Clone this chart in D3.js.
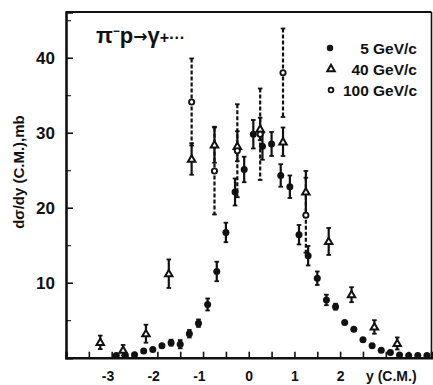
<!DOCTYPE html>
<html>
<head>
<meta charset="utf-8">
<script src="https://cdn.jsdelivr.net/npm/d3@7"></script>
<style>
  body { margin: 0; background: #fff; }
  text { font-family: "Liberation Sans", Arial, sans-serif; font-weight: bold; fill: #111; }
</style>
</head>
<body>
<div id="chart"></div>
<script>
// rapidity points, cross section (mb) and errors

// 5 GeV/c, filled circles
const rap5 = [-2.9, -2.7, -2.5, -2.3, -2.1, -1.9, -1.7, -1.5, -1.3, -1.1, -0.9, -0.7, -0.5, -0.3, -0.1,
              0.1, 0.3, 0.5, 0.7, 0.9, 1.1, 1.3, 1.5, 1.7, 1.9, 2.1, 2.3, 2.5, 2.7, 2.9, 3.1, 3.3, 3.5, 3.7, 3.9];
const val5 = [0.3, 0.3, 0.4, 0.9, 1.1, 1.6, 2.0, 1.8, 3.2, 4.6, 7.1, 11.5, 16.7, 22.1, 25.1,
              29.8, 28.2, 28.5, 24.3, 22.8, 16.4, 13.6, 10.6, 7.7, 6.8, 4.7, 3.8, 2.4, 1.6, 1.0, 0.7, 0.35, 0.3, 0.3, 0.3];
const err5 = [0, 0, 0, 0, 0, 0, 0.4, 0.55, 0.5, 0.5, 0.8, 1.3, 1.3, 1.8, 1.7,
              1.9, 1.8, 1.6, 1.5, 1.5, 1.3, 1.3, 0.9, 0.7, 0.4, 0, 0, 0, 0, 0, 0, 0, 0, 0, 0];

// 40 GeV/c, open triangles
const rap40 = [-3.25, -2.75, -2.25, -1.75, -1.25, -0.75, -0.25, 0.25, 0.75, 1.25, 1.75, 2.25, 2.75, 3.25];
const val40 = [2.05, 1.0, 3.2, 11.2, 26.5, 28.4, 28.2, 30.5, 28.8, 22.1, 15.5, 8.4, 4.1, 1.9];
const err40 = [0.9, 0.7, 1.2, 1.9, 2.1, 2.4, 2.0, 1.5, 1.9, 2.8, 1.8, 1.0, 0.9, 0.8];

// 100 GeV/c, open circles (dashed error bars)
const rap100 = [-1.25, -0.75, -0.25, 0.25, 0.75, 1.25];
const val100 = [34.1, 24.9, 27.6, 29.8, 38.0, 19.0];
const err100 = [5.8, 5.8, 6.2, 6.1, 5.9, 5.0];

const legendLabels = ["5 GeV/c", "40 GeV/c", "100 GeV/c"];
const yTicks = [10, 20, 30, 40];
const xLabels = [-3, -2, -1, 0, 1, 2];

const width = 433, height = 385;

const svg = d3.select("#chart")
    .append("svg")
    .attr("width", width)
    .attr("height", height)
    .style("background-color", "#fff");

const x = d3.scaleLinear().domain([-4, 4]).range([66, 431.5]);
const y = d3.scaleLinear().domain([0, 46.1]).range([357.7, 12]);

// frame: heavy left and bottom axes, lighter top and right
svg.append("line").attr("x1", x(-4)).attr("x2", x(4)).attr("y1", y.range()[1]).attr("y2", y.range()[1])
    .attr("stroke", "#111").attr("stroke-width", 2);
svg.append("line").attr("x1", x(4)).attr("x2", x(4)).attr("y1", y.range()[1]).attr("y2", y(0))
    .attr("stroke", "#111").attr("stroke-width", 1.6);

// y axis, ticks pointing inward
const yAxis = svg.append("g")
    .attr("transform", `translate(${x(-4)},0)`)
    .call(d3.axisLeft(y).tickValues(yTicks).tickSize(-7).tickPadding(11).tickFormat(d3.format("d")));
svg.append("g")
    .attr("transform", `translate(${x(-4)},0)`)
    .call(d3.axisLeft(y).tickValues([5, 15, 25, 35, 45]).tickSize(-5).tickFormat(""))
    .call(g => g.select(".domain").remove());

// x axis, ticks every half unit
const xAxis = svg.append("g")
    .attr("transform", `translate(0,${y(0)})`)
    .call(d3.axisBottom(x).tickValues(d3.range(-3.5, 4, 0.5)).tickSize(-6).tickPadding(13)
        .tickFormat(d => xLabels.includes(d) ? String(d) : ""));

[yAxis, xAxis].forEach(a => {
    a.select(".domain").attr("stroke", "#111").attr("stroke-width", 2.6);
    a.selectAll(".tick line").attr("stroke", "#111").attr("stroke-width", 1.6);
    a.selectAll(".tick text").style("font-size", "17px").attr("fill", "#111");
});
xAxis.selectAll(".tick text")
    .style("font-size", "14px")
    .attr("dx", d => d < 0 ? "-0.3em" : null);

// axis titles
svg.append("text")
    .attr("x", 366)
    .attr("y", 381)
    .style("font-size", "14px")
    .text("y (C.M.)");

svg.append("text")
    .attr("transform", "translate(24,172) rotate(-90)")
    .attr("text-anchor", "middle")
    .style("font-size", "15px")
    .text("dσ/dy  (C.M.),mb");

// reaction title
const title = svg.append("text").attr("x", 96).attr("y", 43).style("font-size", "22px");
title.append("tspan").text("π");
title.append("tspan").attr("dy", -8).style("font-size", "12px").text("−");
title.append("tspan").attr("dy", 8).text("p");
title.append("tspan").style("font-family", "DejaVu Sans").style("font-size", "17px").attr("dy", -1).text("→");
title.append("tspan").attr("dy", 1).text("γ");
title.append("tspan").style("font-size", "16px").text("+···");

// helpers for error bars
function errorBars(xs, vs, es, dashed) {
    const data = xs.map((d, i) => ({ r: d, v: vs[i], e: es[i] })).filter(d => d.e > 0);
    const g = svg.append("g").attr("stroke", "#111").attr("fill", "none");
    g.selectAll("line.bar")
        .data(data)
        .join("line")
        .attr("class", "bar")
        .attr("x1", d => x(d.r)).attr("x2", d => x(d.r))
        .attr("y1", d => y(d.v + d.e)).attr("y2", d => y(d.v - d.e))
        .attr("stroke-width", 2.2)
        .attr("stroke-dasharray", dashed ? "4,2" : null);
    ["top", "bot"].forEach(k => {
        g.selectAll("line." + k)
            .data(data)
            .join("line")
            .attr("class", k)
            .attr("x1", d => x(d.r) - 2.3).attr("x2", d => x(d.r) + 2.3)
            .attr("y1", d => y(k === "top" ? d.v + d.e : d.v - d.e))
            .attr("y2", d => y(k === "top" ? d.v + d.e : d.v - d.e))
            .attr("stroke-width", 1.8);
    });
}

errorBars(rap100, val100, err100, true);
errorBars(rap40, val40, err40, false);
errorBars(rap5, val5, err5, false);

// markers
const tri = d3.symbol().type(d3.symbolTriangle).size(24);

svg.append("g").selectAll("path")
    .data(rap40.map((d, i) => [d, val40[i]]))
    .join("path")
    .attr("d", tri)
    .attr("transform", d => `translate(${x(d[0])},${y(d[1]) + 0.5})`)
    .attr("fill", "#fff").attr("stroke", "#111").attr("stroke-width", 2);

svg.append("g").selectAll("circle")
    .data(rap100.map((d, i) => [d, val100[i]]))
    .join("circle")
    .attr("cx", d => x(d[0])).attr("cy", d => y(d[1]))
    .attr("r", 2.6)
    .attr("fill", "#fff").attr("stroke", "#111").attr("stroke-width", 1.9);

svg.append("g").selectAll("circle")
    .data(rap5.map((d, i) => [d, val5[i]]))
    .join("circle")
    .attr("cx", d => x(d[0])).attr("cy", d => y(d[1]))
    .attr("r", 3.5)
    .attr("fill", "#111");

// legend
const legend = svg.append("g");
const legendY = [48, 69, 90];
legend.append("circle").attr("cx", 330).attr("cy", legendY[0]).attr("r", 3.2).attr("fill", "#111");
legend.append("path").attr("d", tri).attr("transform", `translate(331,${legendY[1]})`)
    .attr("fill", "#fff").attr("stroke", "#111").attr("stroke-width", 2);
legend.append("circle").attr("cx", 331).attr("cy", legendY[2]).attr("r", 2.4)
    .attr("fill", "#fff").attr("stroke", "#111").attr("stroke-width", 1.8);
legend.selectAll("text")
    .data(legendLabels)
    .join("text")
    .attr("x", 417)
    .attr("y", (d, i) => legendY[i] + 6)
    .attr("text-anchor", "end")
    .style("font-size", "15.5px")
    .text(d => d);
</script>
</body>
</html>
